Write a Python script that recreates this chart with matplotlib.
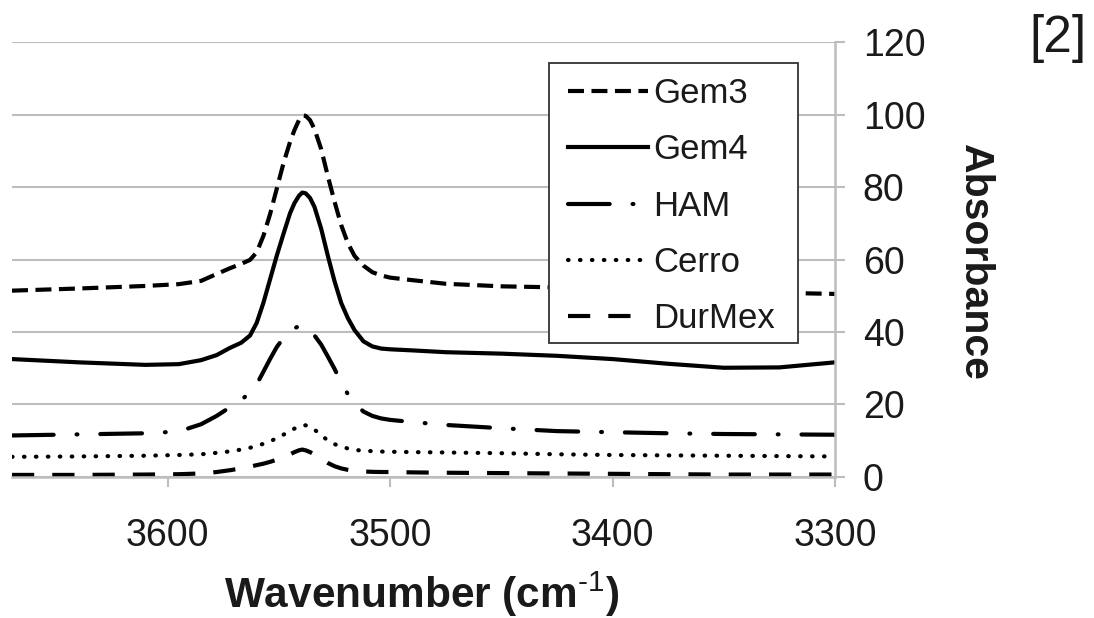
import matplotlib

matplotlib.use("Agg")

import matplotlib.pyplot as plt
from matplotlib.patches import Rectangle


wavenumber = [
    3670, 3640, 3610, 3595, 3585, 3578, 3572, 3567, 3563, 3560,
    3557, 3554, 3551, 3548, 3545, 3543, 3541, 3539.5, 3538, 3536,
    3534, 3531, 3528, 3525, 3522, 3519, 3516, 3512, 3508, 3504,
    3500, 3490, 3475, 3450, 3425, 3400, 3375, 3350, 3325, 3300,
]

gem3 = [
    51.4, 52.0, 52.7, 53.2, 54.1, 56.0, 57.6, 58.8, 59.9, 62.0,
    66.5, 72.5, 79.5, 86.5, 92.5, 95.8, 98.5, 99.8, 99.7, 98.5,
    96.0, 90.5, 83.0, 76.0, 69.5, 64.5, 61.0, 58.3, 56.5, 55.6,
    55.0, 54.3, 53.3, 52.6, 52.3, 52.0, 51.6, 51.2, 50.8, 50.5,
]

gem4 = [
    32.5, 31.6, 30.9, 31.1, 32.2, 33.6, 35.6, 37.0, 39.0, 42.5,
    48.0, 54.5, 61.0, 67.0, 72.8, 75.6, 77.6, 78.5, 78.3, 77.0,
    74.5, 68.5, 61.0, 54.0, 48.0, 43.8, 40.5, 37.4, 36.0, 35.4,
    35.2, 34.9, 34.4, 34.0, 33.4, 32.5, 31.2, 30.1, 30.2, 31.6,
]

ham = [
    11.4, 11.7, 12.0, 12.5, 14.5, 16.8, 19.2, 21.2, 23.2, 25.5,
    29.0, 32.5, 35.8, 38.3, 40.2, 41.0, 41.6, 41.8, 41.5, 40.5,
    39.0, 36.5, 33.2, 29.8, 26.0, 22.8, 20.3, 18.0, 16.8, 16.1,
    15.7, 15.1, 14.3, 13.4, 12.6, 12.3, 12.0, 11.8, 11.7, 11.6,
]

cerro = [
    5.5, 5.6, 5.8, 6.0, 6.2, 6.6, 7.0, 7.5, 8.0, 8.5,
    9.1, 9.8, 10.6, 11.6, 12.6, 13.3, 13.9, 14.2, 14.2, 13.8,
    13.0, 11.5, 10.0, 9.0, 8.3, 7.8, 7.4, 7.2, 7.05, 6.95,
    6.9, 6.8, 6.7, 6.5, 6.2, 6.0, 5.9, 5.8, 5.7, 5.6,
]

durmex = [
    0.5, 0.5, 0.6, 0.7, 0.9, 1.3, 1.8, 2.3, 2.8, 3.2,
    3.6, 4.1, 4.7, 5.4, 6.2, 6.8, 7.3, 7.5, 7.3, 6.8,
    6.1, 5.0, 3.8, 2.9, 2.3, 1.9, 1.6, 1.45, 1.35, 1.3,
    1.3, 1.2, 1.1, 1.0, 0.9, 0.8, 0.7, 0.6, 0.6, 0.6,
]

series_names = ["Gem3", "Gem4", "HAM", "Cerro", "DurMex"]
x_ticks = [3600, 3500, 3400, 3300]
y_ticks = [0, 20, 40, 60, 80, 100, 120]

# dash patterns in points (scale_dashes is off), plus cap style
styles = {
    "Gem3": ((0, (11.5, 5.4)), "butt"),
    "Gem4": ("-", "butt"),
    "HAM": ((0, (30, 16.5, 0.6, 16.5)), "round"),
    "Cerro": ((0, (0.4, 8.2)), "round"),
    "DurMex": ((0, (16, 13)), "butt"),
}

plt.rcParams["font.family"] = ["Liberation Sans", "DejaVu Sans"]
plt.rcParams["mathtext.fontset"] = "custom"
plt.rcParams["mathtext.rm"] = "Liberation Sans"
plt.rcParams["mathtext.bf"] = "Liberation Sans:bold"
plt.rcParams["lines.scale_dashes"] = False

grid_grey = "#bdbdbd"
text_black = "#1a1a1a"

fig = plt.figure(figsize=(10.94, 6.18), dpi=100)
ax = fig.add_axes([0.01097, 0.2286, 0.7523, 0.7029])

curves = [gem3, gem4, ham, cerro, durmex]
for name, values in zip(series_names, curves):
    ls, cap = styles[name]
    ax.plot(
        wavenumber,
        values,
        color="black",
        linewidth=3.0,
        linestyle=ls,
        dash_capstyle=cap,
        solid_joinstyle="round",
        dash_joinstyle="round",
        label=name,
    )

ax.set_xlim(3670, 3300)
ax.set_ylim(0, 120)

ax.set_xticks(x_ticks)
ax.set_yticks(y_ticks)

ax.yaxis.tick_right()
ax.grid(axis="y", color=grid_grey, linewidth=1.5)
ax.set_axisbelow(True)

for side in ["left", "top"]:
    ax.spines[side].set_visible(False)
for side in ["right", "bottom"]:
    ax.spines[side].set_color(grid_grey)
    ax.spines[side].set_linewidth(1.8)

ax.tick_params(
    axis="y",
    direction="out",
    length=7,
    width=1.5,
    color=grid_grey,
    labelsize=27,
    labelcolor=text_black,
    pad=13,
)
ax.tick_params(
    axis="x",
    direction="out",
    length=7,
    width=1.5,
    color=grid_grey,
    labelsize=27,
    labelcolor=text_black,
    pad=23,
)

ax.text(
    0.4975,
    -0.303,
    r"Wavenumber (cm$^{\text{-1}}$)",
    transform=ax.transAxes,
    ha="center",
    va="baseline",
    fontsize=30.5,
    fontweight="bold",
    color=text_black,
)

ax.text(
    1.170,
    0.494,
    "Absorbance",
    transform=ax.transAxes,
    rotation=270,
    ha="center",
    va="center",
    fontsize=29.5,
    fontweight="bold",
    color=text_black,
)

fig.text(
    0.9666,
    1 - 38.5 / 618,
    "[2]",
    ha="center",
    va="center",
    fontsize=37,
    color=text_black,
)

# legend box drawn separately so its padding can differ per side
legend_box = Rectangle(
    (0.6529, 0.3071),
    0.3018,
    0.6446,
    transform=ax.transAxes,
    facecolor="white",
    edgecolor="#333333",
    linewidth=1.3,
    zorder=4,
)
ax.add_patch(legend_box)

legend = ax.legend(
    loc="upper left",
    bbox_to_anchor=(0.676, 0.9197),
    borderaxespad=0,
    borderpad=0,
    fontsize=25,
    handlelength=2.3,
    handletextpad=0.15,
    labelspacing=0.67,
    frameon=False,
)
legend.set_zorder(5)
for text in legend.get_texts():
    text.set_color(text_black)

fig.savefig("out.png", dpi=100)
